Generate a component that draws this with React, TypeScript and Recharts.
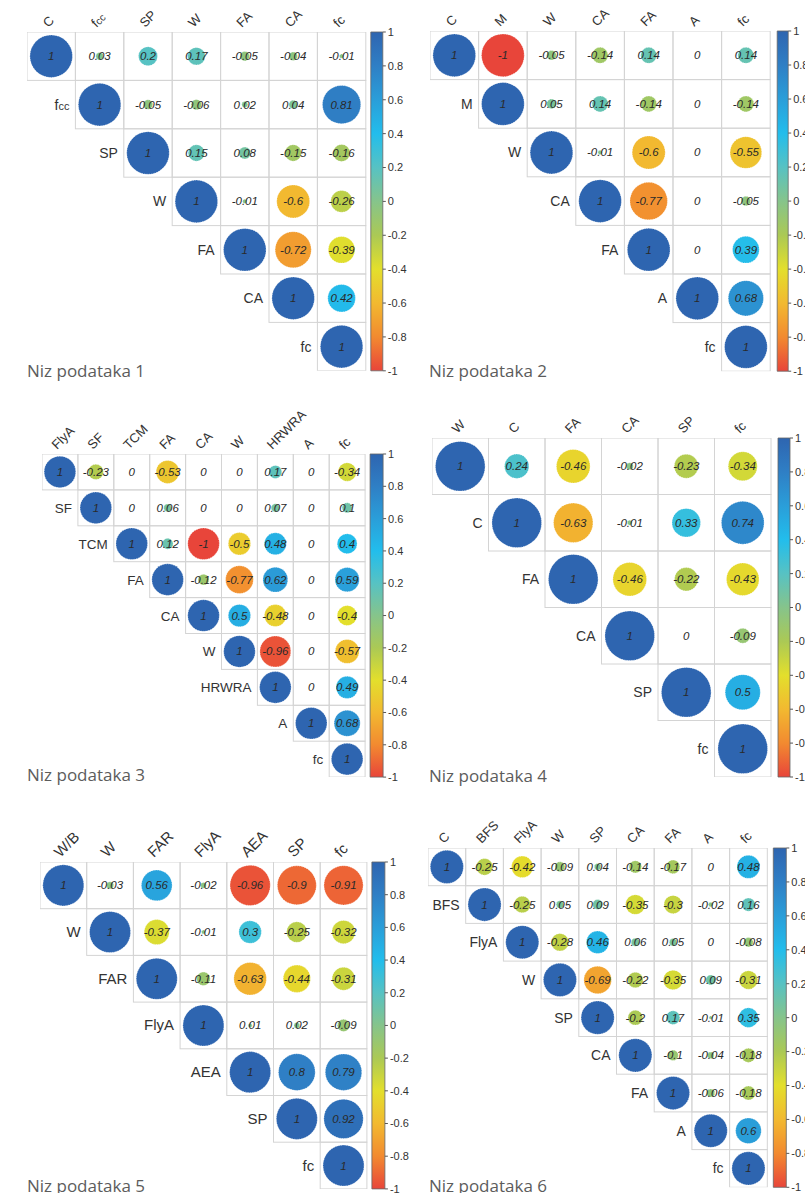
import React from 'react';
import { ScatterChart, Scatter, XAxis, YAxis, ReferenceArea } from 'recharts';

// upper-triangle correlation rows, each row starts at the diagonal
const labels1 = ['C', 'fcc', 'SP', 'W', 'FA', 'CA', 'fc'];
const rows1 = [
  [1, 0.03, 0.2, 0.17, -0.05, -0.04, -0.01],
  [1, -0.05, -0.06, 0.02, 0.04, 0.81],
  [1, 0.15, 0.08, -0.15, -0.16],
  [1, -0.01, -0.6, -0.26],
  [1, -0.72, -0.39],
  [1, 0.42],
  [1],
];

const labels2 = ['C', 'M', 'W', 'CA', 'FA', 'A', 'fc'];
const rows2 = [
  [1, -1, -0.05, -0.14, 0.14, 0, 0.14],
  [1, 0.05, 0.14, -0.14, 0, -0.14],
  [1, -0.01, -0.6, 0, -0.55],
  [1, -0.77, 0, -0.05],
  [1, 0, 0.39],
  [1, 0.68],
  [1],
];

const labels3 = ['FlyA', 'SF', 'TCM', 'FA', 'CA', 'W', 'HRWRA', 'A', 'fc'];
const rows3 = [
  [1, -0.23, 0, -0.53, 0, 0, 0.17, 0, -0.34],
  [1, 0, 0.06, 0, 0, 0.07, 0, 0.1],
  [1, 0.12, -1, -0.5, 0.48, 0, 0.4],
  [1, -0.12, -0.77, 0.62, 0, 0.59],
  [1, 0.5, -0.48, 0, -0.4],
  [1, -0.96, 0, -0.57],
  [1, 0, 0.49],
  [1, 0.68],
  [1],
];

const labels4 = ['W', 'C', 'FA', 'CA', 'SP', 'fc'];
const rows4 = [
  [1, 0.24, -0.46, -0.02, -0.23, -0.34],
  [1, -0.63, -0.01, 0.33, 0.74],
  [1, -0.46, -0.22, -0.43],
  [1, 0, -0.09],
  [1, 0.5],
  [1],
];

const labels5 = ['W/B', 'W', 'FAR', 'FlyA', 'AEA', 'SP', 'fc'];
const rows5 = [
  [1, -0.03, 0.56, -0.02, -0.96, -0.9, -0.91],
  [1, -0.37, -0.01, 0.3, -0.25, -0.32],
  [1, -0.11, -0.63, -0.44, -0.31],
  [1, 0.01, 0.02, -0.09],
  [1, 0.8, 0.79],
  [1, 0.92],
  [1],
];

const labels6 = ['C', 'BFS', 'FlyA', 'W', 'SP', 'CA', 'FA', 'A', 'fc'];
const rows6 = [
  [1, -0.25, -0.42, -0.09, 0.04, -0.14, -0.17, 0, 0.48],
  [1, -0.25, 0.05, 0.09, -0.35, -0.3, -0.02, 0.16],
  [1, -0.28, 0.46, 0.06, 0.05, 0, -0.08],
  [1, -0.69, -0.22, -0.35, 0.09, -0.31],
  [1, -0.2, 0.17, -0.01, 0.35],
  [1, -0.1, -0.04, -0.18],
  [1, -0.06, -0.18],
  [1, 0.6],
  [1],
];

const titles = ['Niz podataka 1', 'Niz podataka 2', 'Niz podataka 3', 'Niz podataka 4', 'Niz podataka 5', 'Niz podataka 6'];
const cbTicks = [-1, -0.8, -0.6, -0.4, -0.2, 0, 0.2, 0.4, 0.6, 0.8, 1];

const colorStops: [number, string][] = [
  [-1, '#e8453a'],
  [-0.8, '#f28a30'],
  [-0.6, '#f2b930'],
  [-0.4, '#e3df2c'],
  [-0.2, '#abc955'],
  [0, '#86c48b'],
  [0.2, '#57c2c3'],
  [0.4, '#22bdec'],
  [0.6, '#2a9ed9'],
  [0.8, '#2f7fc5'],
  [1, '#2e65b0'],
];

const hex = (h: string) => [1, 3, 5].map((i) => parseInt(h.slice(i, i + 2), 16));

function colorOf(v: number) {
  for (let i = 0; i < colorStops.length - 1; i++) {
    const [a, ca] = colorStops[i];
    const [b, cb] = colorStops[i + 1];
    if (v >= a && v <= b) {
      const t = (v - a) / (b - a);
      const p = hex(ca), q = hex(cb);
      const m = p.map((x, k) => Math.round(x + (q[k] - x) * t));
      return `rgb(${m[0]},${m[1]},${m[2]})`;
    }
  }
  return colorStops[colorStops.length - 1][1];
}

const FONT = '"Liberation Sans", Arial, sans-serif';

const panels = [
  { labels: labels1, rows: rows1, originX: 0, gridL: 27, gridT: 32, cell: 48.4, gap: 5, cbW: 12, colFont: 13, rowFont: 14, titleX: 27, titleY: 377 },
  { labels: labels2, rows: rows2, originX: 400, gridL: 430, gridT: 31, cell: 48.6, gap: 7, cbW: 11, colFont: 13, rowFont: 14, titleX: 429, titleY: 377 },
  { labels: labels3, rows: rows3, originX: 0, gridL: 42, gridT: 454, cell: 35.9, gap: 5, cbW: 13, colFont: 13, rowFont: 13.5, titleX: 27, titleY: 781 },
  { labels: labels4, rows: rows4, originX: 400, gridL: 432, gridT: 438, cell: 56.5, gap: 7, cbW: 12, colFont: 13, rowFont: 14, titleX: 429, titleY: 782 },
  { labels: labels5, rows: rows5, originX: 0, gridL: 40, gridT: 862, cell: 46.7, gap: 5, cbW: 13, colFont: 15, rowFont: 15, titleX: 27, titleY: 1192 },
  { labels: labels6, rows: rows6, originX: 400, gridL: 428, gridT: 848, cell: 37.7, gap: 6, cbW: 13, colFont: 13, rowFont: 14, titleX: 429, titleY: 1192 },
];

const TOP_PAD = 60;
const AXIS_W = 34;

function labelText(name: string, size: number) {
  if (name === 'fcc') {
    return (
      <>
        f<tspan fontSize={size * 0.78}>cc</tspan>
      </>
    );
  }
  return name;
}

function CorrPanel({ p, idx }: { p: (typeof panels)[number]; idx: number }) {
  const n = p.labels.length;
  const plotW = n * p.cell + p.gap + p.cbW;
  const xMax = plotW / p.cell;
  const left = p.gridL - p.originX;
  const width = left + plotW + AXIS_W;
  const height = TOP_PAD + n * p.cell + 8;
  const data = p.rows.flatMap((row, i) =>
    row.map((v, k) => ({ x: i + k + 0.5, y: i + 0.5, v, row: i, col: i + k }))
  );
  const gradId = `cbgrad${idx}`;

  const shape = (props: any) => {
    const { cx, cy, payload } = props;
    const c = p.cell;
    const v: number = payload.v;
    const r = 0.44 * c * Math.sqrt(Math.abs(v));
    return (
      <g>
        <rect x={cx - c / 2} y={cy - c / 2} width={c} height={c} fill="none" stroke="#d4d4d4" strokeWidth={1} />
        {v !== 0 && (
          <circle cx={cx} cy={cy} r={r} fill={colorOf(v)} stroke="#ffffff" strokeWidth={0.8} strokeDasharray="1.2 1.2" strokeOpacity={0.7} />
        )}
        <text x={cx} y={cy + 4} textAnchor="middle" fontSize={11.5} fontStyle="italic" fill="#2a2a2a" fontFamily={FONT}>
          {String(v)}
        </text>
        {payload.row === payload.col && (
          <text x={cx - c / 2 - 6} y={cy + 5} textAnchor="end" fontSize={p.rowFont} fill="#333" fontFamily={FONT}>
            {labelText(p.labels[payload.row], p.rowFont)}
          </text>
        )}
      </g>
    );
  };

  const colTick = (props: any) => {
    const { x, payload } = props;
    const name = p.labels[Math.floor(payload.value)];
    const tx = x - 3;
    const ty = TOP_PAD - 4;
    return (
      <text x={tx} y={ty} transform={`rotate(-45 ${tx} ${ty})`} fontSize={p.colFont} fill="#333" fontFamily={FONT}>
        {labelText(name, p.colFont)}
      </text>
    );
  };

  return (
    <div style={{ position: 'absolute', left: p.originX, top: p.gridT - TOP_PAD }}>
      <ScatterChart width={width} height={height} margin={{ top: 0, right: 0, bottom: 8, left }}>
        <defs>
          <linearGradient id={gradId} x1="0" y1="0" x2="0" y2="1">
            {[...colorStops].reverse().map(([v, col]) => (
              <stop key={v} offset={`${((1 - v) / 2) * 100}%`} stopColor={col} />
            ))}
          </linearGradient>
        </defs>
        <XAxis
          type="number"
          dataKey="x"
          orientation="top"
          domain={[0, xMax]}
          allowDataOverflow
          ticks={p.labels.map((_, i) => i + 0.5)}
          interval={0}
          height={TOP_PAD}
          axisLine={false}
          tickLine={false}
          tick={colTick}
        />
        <YAxis yAxisId="grid" type="number" dataKey="y" domain={[0, n]} reversed allowDataOverflow hide />
        <YAxis
          yAxisId="cb"
          type="number"
          orientation="right"
          domain={[-1, 1]}
          allowDataOverflow
          ticks={cbTicks}
          interval={0}
          width={AXIS_W}
          axisLine={false}
          tickSize={3}
          tickMargin={2}
          tickLine={{ stroke: '#555' }}
          tick={{ fontSize: 11, fill: '#333', fontFamily: FONT }}
          tickFormatter={(v: number) => String(Math.round(v * 10) / 10)}
        />
        <ReferenceArea
          yAxisId="cb"
          x1={n + p.gap / p.cell}
          x2={xMax}
          y1={-1}
          y2={1}
          fill={`url(#${gradId})`}
          fillOpacity={1}
          stroke="#666"
          strokeWidth={0.8}
        />
        <Scatter yAxisId="grid" data={data} shape={shape} isAnimationActive={false} />
      </ScatterChart>
    </div>
  );
}

export default function App() {
  return (
    <div style={{ position: 'absolute', left: 0, top: 0, width: 805, height: 1193, overflow: 'hidden', background: '#fff' }}>
      {panels.map((p, i) => (
        <CorrPanel key={i} p={p} idx={i} />
      ))}
      <svg width={805} height={1193} style={{ position: 'absolute', left: 0, top: 0, pointerEvents: 'none' }}>
        {panels.map((p, i) => (
          <text key={i} x={p.titleX} y={p.titleY} fontSize={17} fill="#5c5c5c" fontFamily='"Open Sans", sans-serif'>
            {titles[i]}
          </text>
        ))}
      </svg>
    </div>
  );
}
